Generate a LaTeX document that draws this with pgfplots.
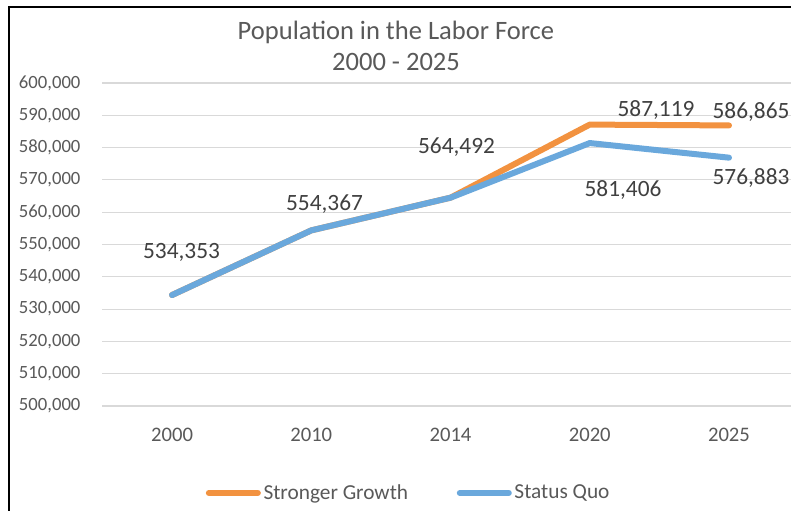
\documentclass[border=0pt]{standalone}
\usepackage{pgfplots}
\pgfplotsset{compat=1.18}
\usepackage{fontspec}
\setmainfont{Carlito}
\definecolor{sgorange}{RGB}{242,146,64}
\definecolor{sqblue}{RGB}{106,168,220}
\definecolor{txtgray}{RGB}{89,89,89}
\definecolor{lblgray}{RGB}{64,64,64}
\definecolor{gridgray}{RGB}{217,217,217}
\begin{document}
\begin{tikzpicture}
\useasboundingbox (0,0) rectangle (593.25pt,382.5pt);
\clip (0,0) rectangle (593.25pt,382.5pt);
\fill[white] (0,0) rectangle (593.25pt,382.5pt);
\begin{axis}[
  at={(76.8pt,78pt)}, anchor=south west,
  scale only axis, width=522.15pt, height=242.25pt,
  xmin=-0.5, xmax=4.5, ymin=500000, ymax=600000,
  xtick={0,1,2,3,4}, xticklabels={2000,2010,2014,2020,2025},
  ytick={500000,510000,...,600000},
  scaled y ticks=false,
  /pgf/number format/.cd, fixed, 1000 sep={,}, assume math mode=true,
  /pgfplots/.cd,
  ymajorgrids, major grid style={gridgray, line width=0.9pt},
  axis line style={draw=none}, major tick length=0pt,
  yticklabel style={font=\fontsize{14}{16}\selectfont, text=txtgray, anchor=east, inner sep=0pt, xshift=-16.3pt},
  xticklabel style={font=\fontsize{15.5}{18}\selectfont, text=txtgray, anchor=base, inner sep=0pt, yshift=-26.8pt},
  legend style={draw=none, fill=none, at={(0.4404,-0.269)}, anchor=center, legend columns=2,
    font=\fontsize{16}{18}\selectfont, text=txtgray,
    /tikz/every even column/.append style={column sep=34.5pt}},
  legend cell align=left,
  legend image code/.code={\draw[line width=4.5pt, line cap=round, #1] (0pt,0pt) -- (36.75pt,0pt);},
  clip=false,
]
\addplot[sgorange, line width=4.5pt, line cap=round, line join=round] coordinates {
  (0,534353) (1,554367) (2,564492) (3,587119) (4,586865)};
\addlegendentry{Stronger Growth}
\addplot[sqblue, line width=4.5pt, line cap=round, line join=round] coordinates {
  (0,534353) (1,554367) (2,564492) (3,581406) (4,576883)};
\addlegendentry{Status Quo}
\begin{scope}[every node/.style={font=\fontsize{17.5}{20}\selectfont, text=lblgray, anchor=base, inner sep=0pt}]
\node at (axis cs:0.068,545820) {534,353};
\node at (axis cs:1.095,560372) {554,367};
\node at (axis cs:2.043,578019) {564,492};
\node at (axis cs:3.476,589474) {587,119};
\node at (axis cs:4.158,588854) {586,865};
\node at (axis cs:3.239,564706) {581,406};
\node at (axis cs:4.158,568421) {576,883};
\end{scope}
\end{axis}
\node[anchor=base, inner sep=0pt, text=txtgray, font=\fontsize{19.9}{24}\selectfont] at (297pt,352.9pt) {Population in the Labor Force};
\node[anchor=base, inner sep=0pt, text=txtgray, font=\fontsize{19.9}{24}\selectfont] at (297pt,329.25pt) {2000 - 2025};
\draw[line width=1.6pt, black] (6.9pt,-2pt) -- (6.9pt,377.4pt) -- (600pt,377.4pt);
\end{tikzpicture}
\end{document}
